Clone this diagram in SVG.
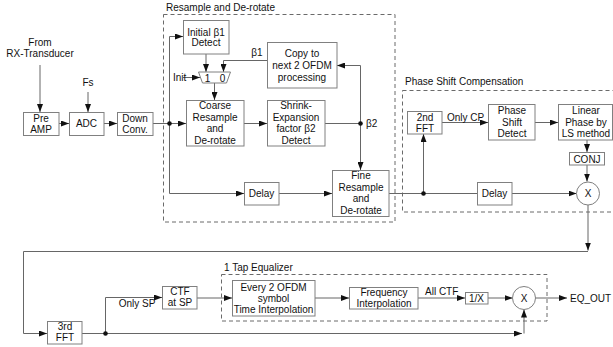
<svg xmlns="http://www.w3.org/2000/svg" width="613" height="347" viewBox="0 0 613 347">
<defs>
<marker id="ah" markerUnits="userSpaceOnUse" markerWidth="8" markerHeight="6" refX="8" refY="3" orient="auto">
<path d="M0,0 L8,3 L0,6 Z" fill="#111"/>
</marker>
</defs>
<style>
text{font-family:"Liberation Sans",Arial,sans-serif;font-size:10px;fill:#111;text-anchor:middle}
.l{text-anchor:start}
.box{fill:#fff;stroke:#808080;stroke-width:1}
.grp{fill:none;stroke:#6a6a6a;stroke-width:1;stroke-dasharray:4,3}
.c{fill:none;stroke:#666;stroke-width:1}
.a{marker-end:url(#ah)}
.dot{fill:#111}
</style>
<rect width="613" height="347" fill="#fff"/>

<g id="groups">
<rect class="grp" x="163.5" y="14.5" width="231.5" height="207.5"/>
<text class="l" x="166" y="11">Resample and De-rotate</text>
<rect class="grp" x="402.5" y="90.5" width="215" height="121.5"/>
<text class="l" x="405" y="85">Phase Shift Compensation</text>
<rect class="grp" x="221.5" y="274.5" width="325.5" height="46.5"/>
<text class="l" x="224" y="271">1 Tap Equalizer</text>
</g>

<g id="connectors">
<path class="c a" d="M40,65 V112"/>
<path class="c a" d="M88,92 V112"/>
<path class="c a" d="M59,123.5 H69"/>
<path class="c a" d="M104,123.5 H117"/>
<path class="c a" d="M153,123.5 H186"/>
<path class="c a" d="M169.5,123.5 V36.5 H183"/>
<path class="c a" d="M169.5,123.5 V193.5 H244"/>
<path class="c a" d="M279,193.5 H332"/>
<path class="c a" d="M206,54 V72"/>
<path class="c a" d="M267,60.5 H223.5 V72"/>
<path class="c a" d="M183,77.5 H200"/>
<path class="c a" d="M214.5,83 V100"/>
<path class="c a" d="M244,123.5 H267"/>
<path class="c" d="M325,123.5 H360.5"/>
<path class="c a" d="M360.5,123.5 V65.5 H337"/>
<path class="c a" d="M360.5,123.5 V170"/>
<path class="c" d="M389,193.5 H477"/>
<path class="c a" d="M423.5,193.5 V134"/>
<path class="c a" d="M442,122.5 H488"/>
<path class="c a" d="M535,122.5 H558"/>
<path class="c a" d="M587,140 V152"/>
<path class="c a" d="M587,165 V181.5"/>
<path class="c a" d="M512,193.5 H576.5"/>
<path class="c a" d="M588,205 V250.5"/>
<path class="c a" d="M588,251.5 H23.5 V333.5 H47"/>
<path class="c" d="M82,333.5 H105.5"/>
<path class="c a" d="M105.5,333.5 V297.5 H162"/>
<path class="c a" d="M105.5,333.5 H522"/>
<path class="c a" d="M524,333.5 V309.5"/>
<path class="c a" d="M197,298 H232"/>
<path class="c a" d="M315,298 H349"/>
<path class="c a" d="M418,298 H465"/>
<path class="c a" d="M488,298 H512.5"/>
<path class="c a" d="M535.5,298 H567"/>
<circle class="dot" cx="169.5" cy="123.5" r="2.3"/>
<circle class="dot" cx="360.5" cy="123.5" r="2.3"/>
<circle class="dot" cx="423.5" cy="193.5" r="2.3"/>
<circle class="dot" cx="105.5" cy="333.5" r="2.3"/>
</g>

<g id="src">
<text x="40" y="45.5">From</text>
<text x="40" y="56.5">RX-Transducer</text>
</g>
<g id="fs"><text x="88" y="85.5">Fs</text></g>
<g id="preamp">
<rect class="box" x="23.5" y="112.5" width="35.5" height="23"/>
<text x="41" y="121.5">Pre</text><text x="41" y="132.5">AMP</text>
</g>
<g id="adc">
<rect class="box" x="69.5" y="112.5" width="34.5" height="23"/>
<text x="86.5" y="127">ADC</text>
</g>
<g id="downconv">
<rect class="box" x="117.5" y="112.5" width="35.5" height="23"/>
<text x="135" y="121.5">Down</text><text x="135" y="132.5">Conv.</text>
</g>
<g id="initb1">
<rect class="box" x="183.5" y="20.5" width="45.5" height="33.5"/>
<text x="206" y="35.5">Initial β1</text><text x="206" y="46">Detect</text>
</g>
<g id="copy">
<rect class="box" x="267.5" y="42.5" width="69.5" height="45.5"/>
<text x="302" y="57">Copy to</text><text x="302" y="69">next 2 OFDM</text><text x="302" y="81">processing</text>
</g>
<g id="b1lbl"><text x="257" y="56">β1</text></g>
<g id="init"><text class="l" x="173" y="81">Init</text></g>
<g id="mux">
<polygon class="box" points="198.5,72 230.5,72 226.5,83 202.5,83"/>
<text x="207.5" y="81.5">1</text><text x="222.5" y="81.5">0</text>
</g>
<g id="coarse">
<rect class="box" x="186.5" y="100.5" width="57.5" height="45.5"/>
<text x="215" y="109">Coarse</text><text x="215" y="120.5">Resample</text><text x="215" y="132">and</text><text x="215" y="143.5">De-rotate</text>
</g>
<g id="shrink">
<rect class="box" x="267.5" y="100.5" width="57.5" height="45.5"/>
<text x="296" y="109">Shrink-</text><text x="296" y="120.5">Expansion</text><text x="296" y="132">factor β2</text><text x="296" y="143.5">Detect</text>
</g>
<g id="b2lbl"><text class="l" x="366" y="127">β2</text></g>
<g id="delay1">
<rect class="box" x="244.5" y="182.5" width="34.5" height="22.5"/>
<text x="261.5" y="197">Delay</text>
</g>
<g id="fine">
<rect class="box" x="332.5" y="170.5" width="56.5" height="46"/>
<text x="361" y="179">Fine</text><text x="361" y="190.5">Resample</text><text x="361" y="202">and</text><text x="361" y="214">De-rotate</text>
</g>
<g id="fft2">
<rect class="box" x="407.5" y="111.5" width="34.5" height="22.5"/>
<text x="425" y="120.5">2nd</text><text x="425" y="131.5">FFT</text>
</g>
<g id="onlycp"><text class="l" x="447" y="120.5">Only CP</text></g>
<g id="psd">
<rect class="box" x="488.5" y="104.5" width="46.5" height="35.5"/>
<text x="512" y="113.5">Phase</text><text x="512" y="125.5">Shift</text><text x="512" y="136.5">Detect</text>
</g>
<g id="linear">
<rect class="box" x="558.5" y="104.5" width="54" height="35.5"/>
<text x="586" y="113.5">Linear</text><text x="586" y="125.5">Phase by</text><text x="586" y="136.5">LS method</text>
</g>
<g id="conj">
<rect class="box" x="569.5" y="152.5" width="35" height="12.5"/>
<text x="587" y="162.5">CONJ</text>
</g>
<g id="mul1">
<circle class="box" cx="588" cy="193.5" r="11.5"/>
<text x="588" y="197">X</text>
</g>
<g id="delay2">
<rect class="box" x="477.5" y="182.5" width="34.5" height="22.5"/>
<text x="494.5" y="197">Delay</text>
</g>
<g id="fft3">
<rect class="box" x="47.5" y="321.5" width="34.5" height="22.5"/>
<text x="65" y="329.5">3rd</text><text x="65" y="340.5">FFT</text>
</g>
<g id="onlysp"><text x="137" y="307">Only SP</text></g>
<g id="ctf">
<rect class="box" x="162.5" y="286.5" width="34.5" height="22.5"/>
<text x="180" y="295">CTF</text><text x="180" y="306">at SP</text>
</g>
<g id="timeint">
<rect class="box" x="232.5" y="280.5" width="82.5" height="35.5"/>
<text x="273.5" y="290.5">Every 2 OFDM</text><text x="273.5" y="301.5">symbol</text><text x="273.5" y="312.5">Time Interpolation</text>
</g>
<g id="freqint">
<rect class="box" x="349.5" y="287.5" width="68.5" height="21.5"/>
<text x="384" y="295.5">Frequency</text><text x="384" y="306.5">Interpolation</text>
</g>
<g id="allctf"><text class="l" x="425" y="295">All CTF</text></g>
<g id="inv">
<rect class="box" x="465.5" y="292.5" width="22.5" height="11.5"/>
<text x="476.5" y="301.5">1/X</text>
</g>
<g id="mul2">
<circle class="box" cx="524" cy="298" r="11.5"/>
<text x="524" y="301.5">X</text>
</g>
<g id="eqout"><text class="l" x="570" y="301.5">EQ_OUT</text></g>
</svg>
